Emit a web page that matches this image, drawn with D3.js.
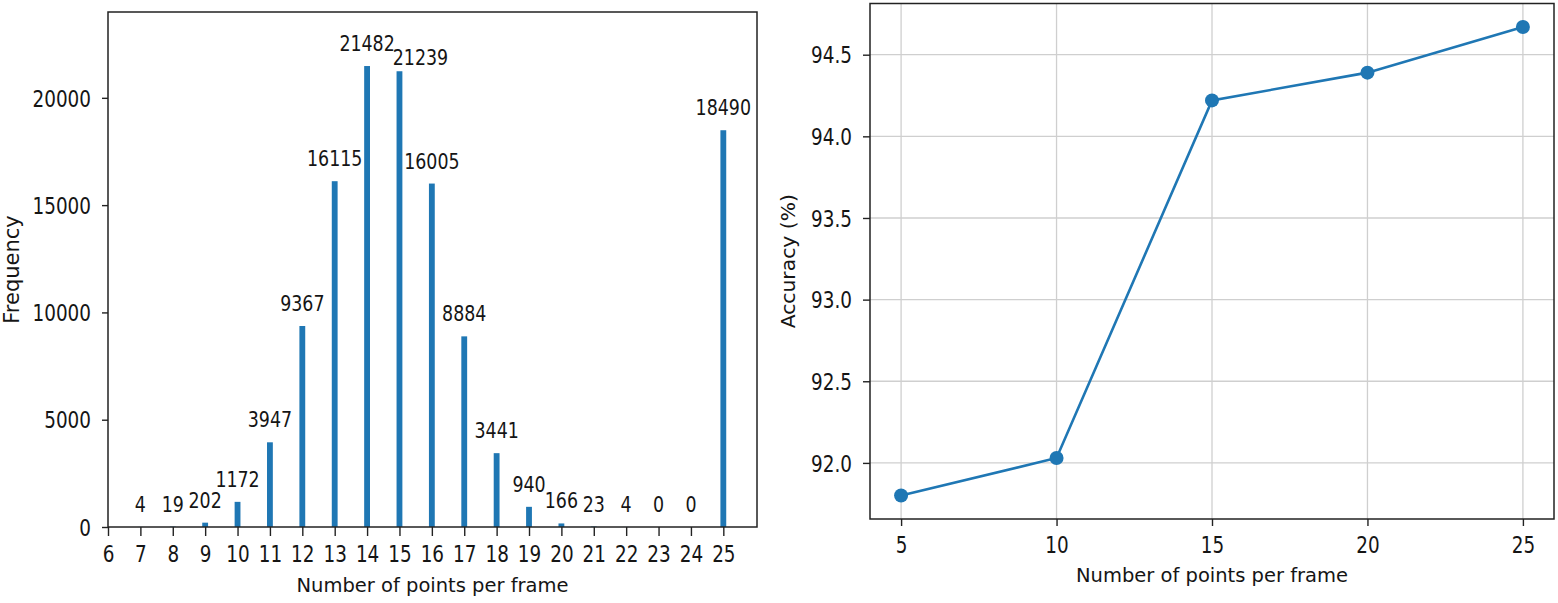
<!DOCTYPE html>
<html><head><meta charset="utf-8">
<script src="https://cdn.jsdelivr.net/npm/d3@7"></script>
<style>
body{margin:0;background:#fff;}
svg{display:block;}
text{font-family:"DejaVu Sans",sans-serif;fill:#151515;}
</style>
</head><body>
<svg id="c" width="1558" height="603"></svg>
<script>
// ---------- data ----------
const pointsPerFrame = [7, 8, 9, 10, 11, 12, 13, 14, 15, 16, 17, 18, 19, 20, 21, 22, 23, 24, 25];
const frequency      = [4, 19, 202, 1172, 3947, 9367, 16115, 21482, 21239, 16005, 8884, 3441, 940, 166, 23, 4, 0, 0, 18490];
const histXTicks = [6, 7, 8, 9, 10, 11, 12, 13, 14, 15, 16, 17, 18, 19, 20, 21, 22, 23, 24, 25];
const histYTicks = [0, 5000, 10000, 15000, 20000];

const accPoints   = [5, 10, 15, 20, 25];
const accuracy    = [91.80, 92.03, 94.22, 94.39, 94.67];
const accXTicks   = [5, 10, 15, 20, 25];
const accYTicks   = [92.0, 92.5, 93.0, 93.5, 94.0, 94.5];

// ---------- style ----------
const BLUE = "#1f77b4";
const SX = 0.8;           // horizontal squeeze of digits in the picture
const TICK_FS = 23;
const svg = d3.select("#c");

function styleBottomAxis(g, baseline) {
  g.select(".domain").remove();
  g.selectAll(".tick line").attr("stroke", "#222").attr("stroke-width", 1.4);
  g.selectAll(".tick text")
    .attr("font-size", TICK_FS)
    .attr("y", baseline).attr("dy", 0)
    .attr("transform", `scale(${SX},1)`);
}
function styleLeftAxis(g, gap) {
  g.select(".domain").remove();
  g.selectAll(".tick line").attr("stroke", "#222").attr("stroke-width", 1.4);
  g.selectAll(".tick text")
    .attr("font-size", TICK_FS)
    .attr("x", -gap / SX).attr("dy", "0.36em")
    .attr("transform", `scale(${SX},1)`);
}

// ================= LEFT: histogram =================
const L = {left: 108, right: 757, top: 12, bottom: 527};
const xH = d3.scaleLinear().domain([6, 26.04]).range([L.left, L.right]);
const yH = d3.scaleLinear().domain([0, 24000]).range([L.bottom, L.top]);

const gL = svg.append("g");
const barW = xH(6.18) - xH(6);
gL.selectAll("rect.bar").data(pointsPerFrame).join("rect")
  .attr("class", "bar")
  .attr("x", (d) => xH(d) - barW / 2)
  .attr("width", barW)
  .attr("y", (d, i) => yH(frequency[i]))
  .attr("height", (d, i) => yH(0) - yH(frequency[i]))
  .attr("fill", BLUE);

// value labels (the 15-bin label is nudged in the original to avoid 21482)
const labelNudge = {15: [21, 9]};
gL.selectAll("g.vlab").data(pointsPerFrame).join("g")
  .attr("class", "vlab")
  .attr("transform", (d, i) => {
    const n = labelNudge[d] || [0, 0];
    return `translate(${xH(d) + n[0]},${yH(frequency[i]) - 15 + n[1]})`;
  })
  .append("text")
  .attr("text-anchor", "middle")
  .attr("font-size", 21)
  .attr("transform", `scale(0.83,1)`)
  .text((d, i) => frequency[i]);

const axBL = gL.append("g").attr("transform", `translate(0,${L.bottom})`)
  .call(d3.axisBottom(xH).tickValues(histXTicks).tickSize(9).tickFormat(d3.format("d")));
styleBottomAxis(axBL, 35);
const axLL = gL.append("g").attr("transform", `translate(${L.left},0)`)
  .call(d3.axisLeft(yH).tickValues(histYTicks).tickSize(6).tickFormat(d3.format("d")));
styleLeftAxis(axLL, 17);

gL.append("rect").attr("x", L.left).attr("y", L.top)
  .attr("width", L.right - L.left).attr("height", L.bottom - L.top)
  .attr("fill", "none").attr("stroke", "#222").attr("stroke-width", 1.5);

gL.append("text").attr("x", (L.left + L.right) / 2).attr("y", 592)
  .attr("text-anchor", "middle").attr("font-size", 19.5)
  .text("Number of points per frame");
gL.append("text").attr("transform", `translate(19,${(L.top + L.bottom) / 2}) rotate(-90)`)
  .attr("text-anchor", "middle").attr("font-size", 21)
  .text("Frequency");

// ================= RIGHT: accuracy line =================
const R = {left: 870, right: 1554, top: 3.5, bottom: 519};
const xExt = d3.extent(accPoints), yExt = d3.extent(accuracy);
const xPad = (xExt[1] - xExt[0]) * 0.05, yPad = (yExt[1] - yExt[0]) * 0.05;
const xA = d3.scaleLinear().domain([xExt[0] - xPad, xExt[1] + xPad]).range([R.left, R.right]);
const yA = d3.scaleLinear().domain([yExt[0] - yPad, yExt[1] + yPad]).range([R.bottom, R.top]);

const gR = svg.append("g");
// grid
gR.selectAll("line.gx").data(accXTicks).join("line")
  .attr("x1", (d) => xA(d)).attr("x2", (d) => xA(d))
  .attr("y1", R.top).attr("y2", R.bottom)
  .attr("stroke", "#cfcfcf").attr("stroke-width", 1.3);
gR.selectAll("line.gy").data(accYTicks).join("line")
  .attr("y1", (d) => yA(d)).attr("y2", (d) => yA(d))
  .attr("x1", R.left).attr("x2", R.right)
  .attr("stroke", "#cfcfcf").attr("stroke-width", 1.3);

const lineGen = d3.line().x((d, i) => xA(accPoints[i])).y((d) => yA(d));
gR.append("path").datum(accuracy).attr("d", lineGen)
  .attr("fill", "none").attr("stroke", BLUE).attr("stroke-width", 2.6);
gR.selectAll("circle").data(accuracy).join("circle")
  .attr("cx", (d, i) => xA(accPoints[i])).attr("cy", (d) => yA(d))
  .attr("r", 7).attr("fill", BLUE);

const axBR = gR.append("g").attr("transform", `translate(0,${R.bottom})`)
  .call(d3.axisBottom(xA).tickValues(accXTicks).tickSize(7).tickFormat(d3.format("d")));
styleBottomAxis(axBR, 34);
const axLR = gR.append("g").attr("transform", `translate(${R.left},0)`)
  .call(d3.axisLeft(yA).tickValues(accYTicks).tickSize(7).tickFormat(d3.format(".1f")));
styleLeftAxis(axLR, 18);

gR.append("rect").attr("x", R.left).attr("y", R.top)
  .attr("width", R.right - R.left).attr("height", R.bottom - R.top)
  .attr("fill", "none").attr("stroke", "#222").attr("stroke-width", 1.5);

gR.append("text").attr("x", (R.left + R.right) / 2).attr("y", 582)
  .attr("text-anchor", "middle").attr("font-size", 19.5)
  .text("Number of points per frame");
gR.append("text").attr("transform", `translate(795,${(R.top + R.bottom) / 2}) rotate(-90)`)
  .attr("text-anchor", "middle").attr("font-size", 20.3)
  .text("Accuracy (%)");
</script>
</body></html>
